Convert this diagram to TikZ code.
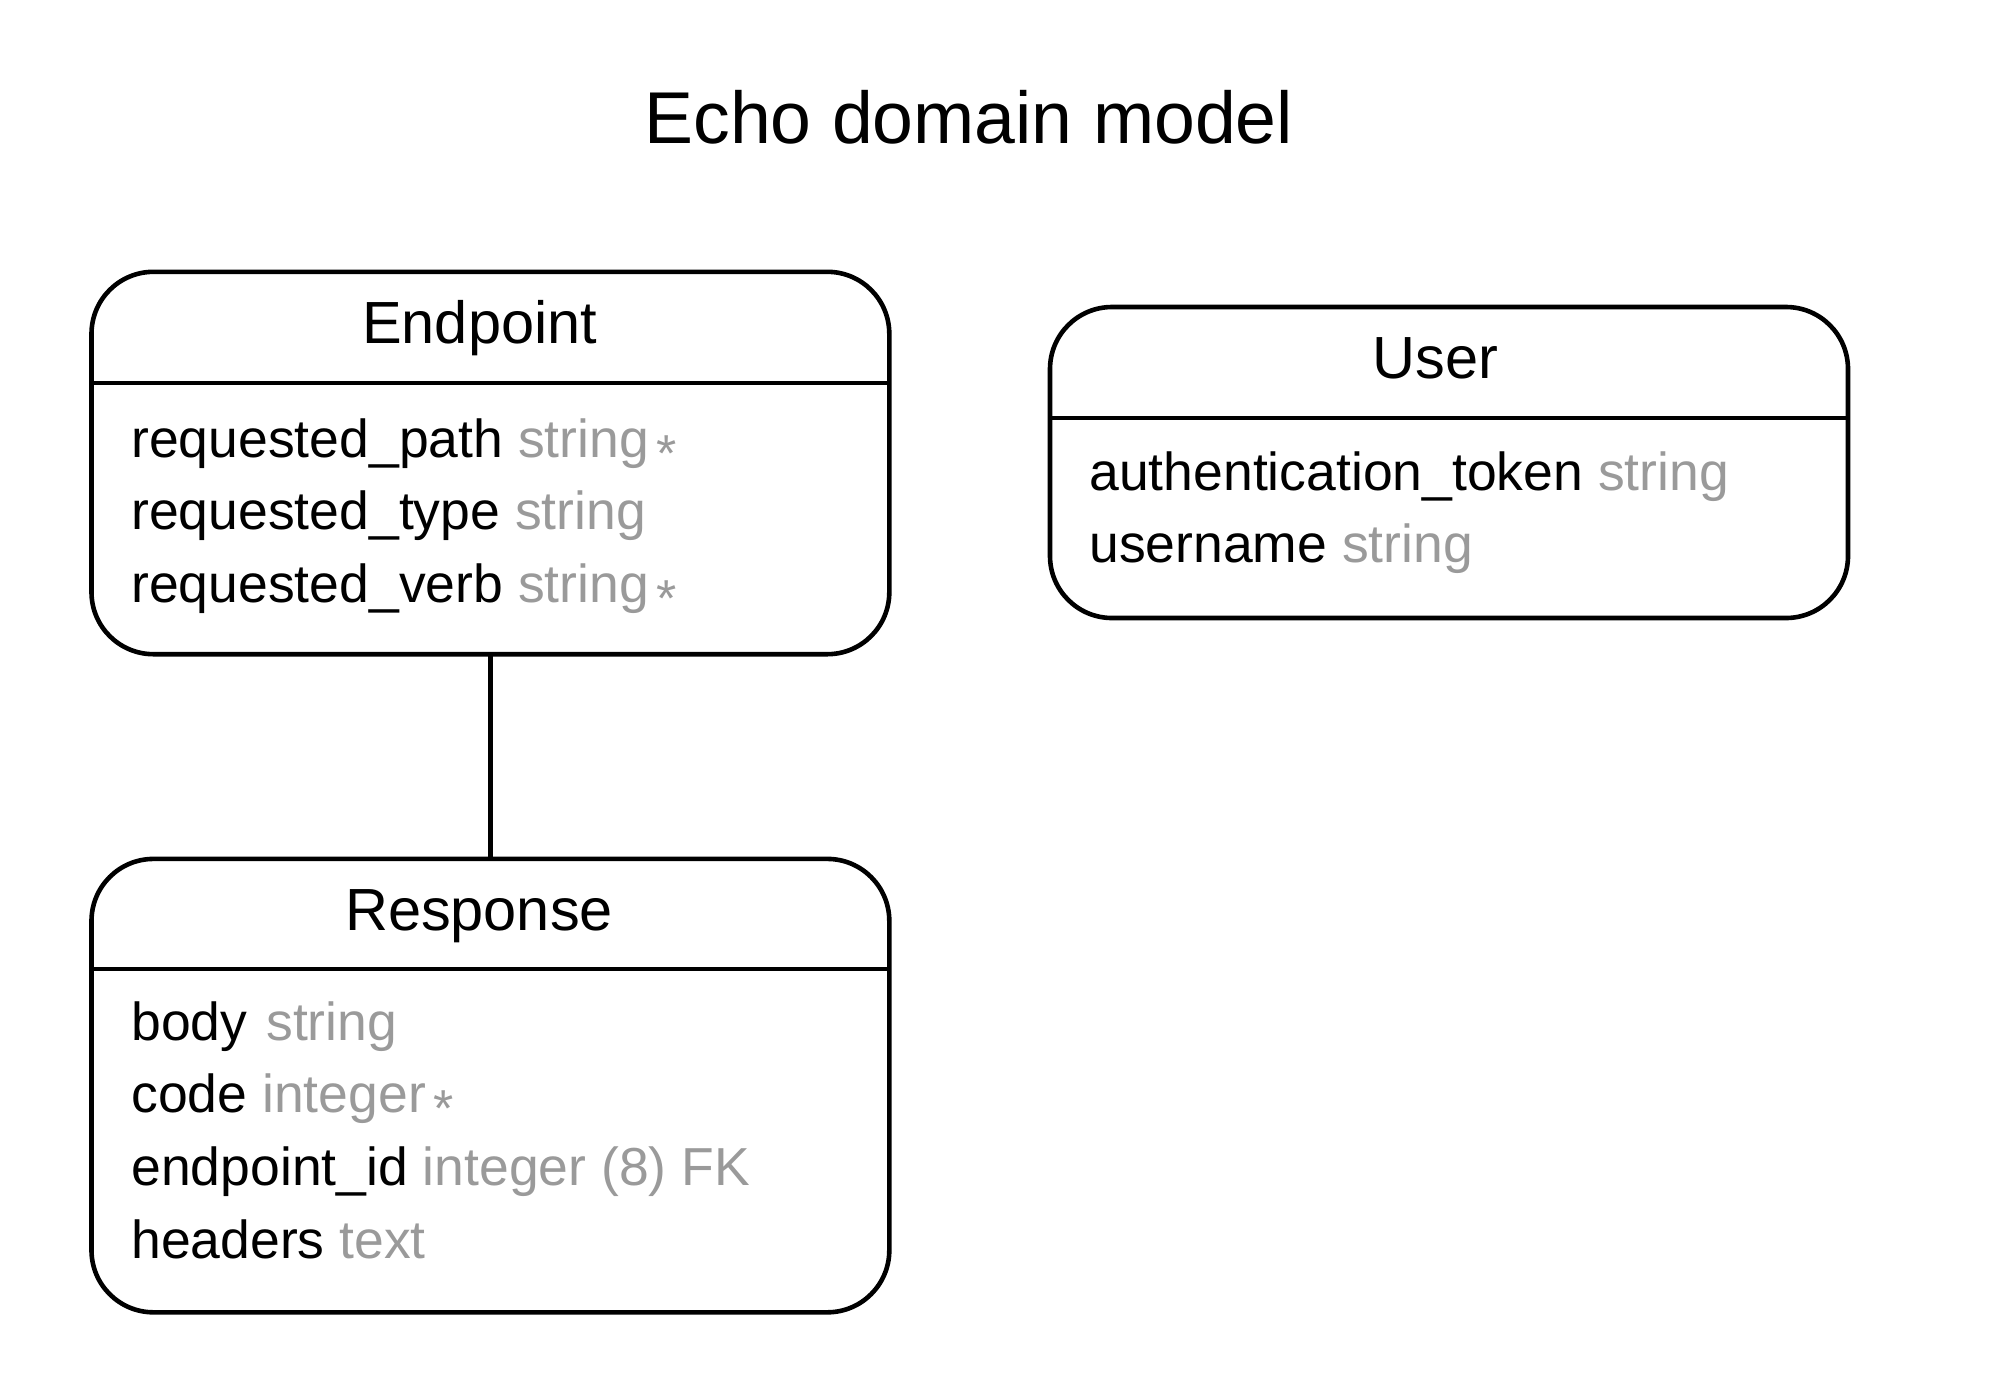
\documentclass[tikz,border=0pt]{standalone}
\usepackage{fontspec}
\setmainfont{Liberation Sans}
\usepackage{tikz}
\usetikzlibrary{positioning}

\definecolor{attrgray}{HTML}{9A9A9A}
\newcommand{\attrtype}[1]{{\color{attrgray}#1}}
\newcommand{\reqmark}{{\color{attrgray}\hspace{4pt}\raisebox{-7pt}{\fontsize{26}{26}\selectfont *}}}

\begin{document}
\begin{tikzpicture}[x=1pt, y=-1pt,
    entity/.style={draw, line width=2.3pt, rounded corners=31pt, inner sep=0pt, outer sep=0pt},
    header/.style={anchor=base, inner sep=0pt, font=\fontsize{29.75}{34}\selectfont},
    attrrow/.style={inner sep=0pt, text height=25pt, text depth=11pt, font=\fontsize{26.75}{32}\selectfont},
    divider/.style={line width=2.3pt}]
        \useasboundingbox (0,0) rectangle (996,694);

        \node[anchor=base, inner sep=0pt, font=\fontsize{36.7}{42}\selectfont] (title) at (484.4,71.5) {Echo domain model};

        % entity boxes
        \node[entity, minimum width=398.9pt, minimum height=191.2pt] (endpoint) at (245.2,231.5) {};
        \node[entity, minimum width=398.9pt, minimum height=226.7pt] (response) at (245.2,542.8) {};
        \node[entity, minimum width=399pt, minimum height=155.5pt] (user) at (724.5,231.25) {};

        % Endpoint
        \node[header] (endpointhead) at (239.8,171.5) {Endpoint};
        \draw[divider] (endpoint.west |- 0,191.5) -- (endpoint.east |- 0,191.5);
        \node[attrrow, anchor=base west] (ep1) at (65.5,228.5) {requested\_path \attrtype{string}\reqmark};
        \node[attrrow, below right=0pt and 0pt of ep1.south west] (ep2) {requested\_type \attrtype{string}};
        \node[attrrow, below right=0pt and 0pt of ep2.south west] (ep3) {requested\_verb \attrtype{string}\reqmark};

        % Response
        \node[header] (responsehead) at (239.5,465) {Response};
        \draw[divider] (response.west |- 0,484.5) -- (response.east |- 0,484.5);
        \node[attrrow, anchor=base west] (rs1) at (65.5,520) {body\hspace{2pt} \attrtype{string}};
        \node[attrrow, below right=0pt and 0pt of rs1.south west] (rs2) {code \attrtype{integer}\reqmark};
        \node[attrrow, below right=0pt and 0pt of rs2.south west] (rs3) {endpoint\_id \attrtype{integer (8) FK}};
        \node[attrrow, below right=0pt and 0pt of rs3.south west] (rs4) {headers \attrtype{text}};

        % User
        \node[header] (userhead) at (717.8,189) {User};
        \draw[divider] (user.west |- 0,209) -- (user.east |- 0,209);
        \node[attrrow, anchor=base west] (us1) at (544.5,245) {authentication\_token \attrtype{string}};
        \node[attrrow, below right=0pt and 0pt of us1.south west] (us2) {username \attrtype{string}};

        \draw[line width=2.3pt] (endpoint) -- (response);
\end{tikzpicture}
\end{document}
